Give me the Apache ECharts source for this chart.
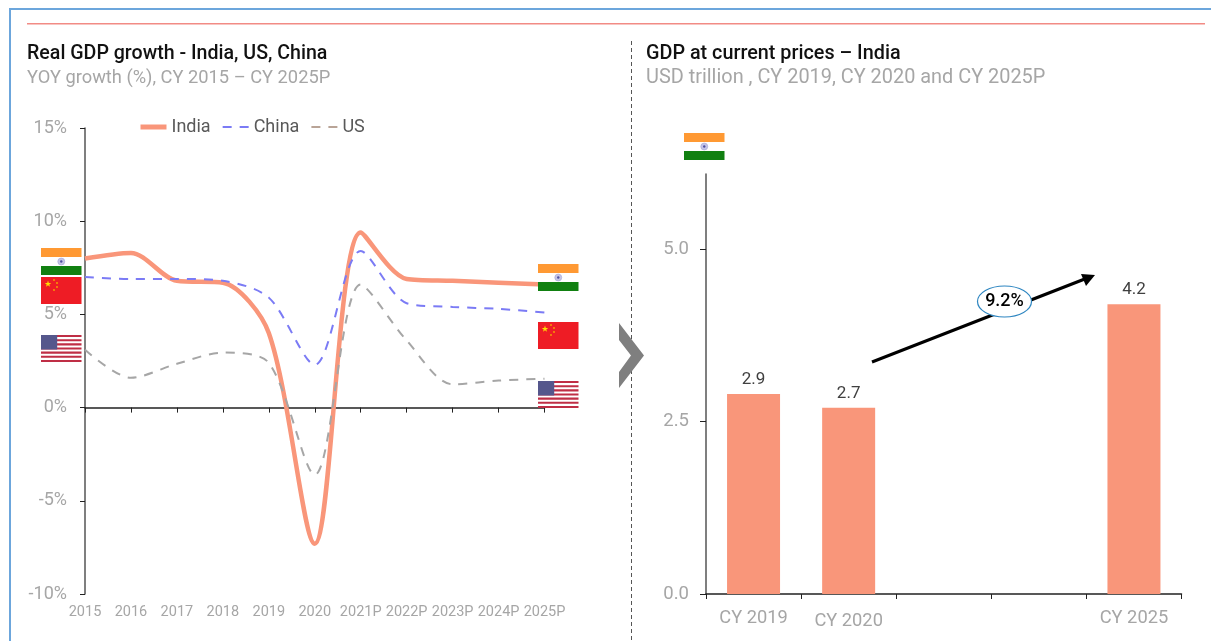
<!DOCTYPE html>
<html><head><meta charset="utf-8">
<style>html,body{margin:0;padding:0;background:#fff}#c{width:1211px;height:641px}</style>
<script src="https://cdn.jsdelivr.net/npm/echarts@6/dist/echarts.min.js"></script></head>
<body><div id="c"></div>
<script>
const years = ['2015','2016','2017','2018','2019','2020','2021P','2022P','2023P','2024P','2025P'];
const india = [8.0,8.3,6.8,6.7,4.0,-7.3,9.4,6.9,6.8,6.7,6.6];
const china = [7.0,6.9,6.9,6.8,5.9,2.3,8.4,5.6,5.4,5.3,5.1];
const us = [3.1,1.6,2.35,2.95,2.4,-3.6,6.6,3.6,1.25,1.45,1.55];
const gdpCats = ['CY 2019','CY 2020','','','CY 2025'];
const gdpVals = [2.9,2.7,null,null,4.2];
const FONT = 'Roboto';
const GREY = '#A6A6A6';
const ORANGE = '#F9967A';

function flag(kind,x,y){
  const w=40.5;
  let out;
  if(kind==='in') out=[
    {type:'rect',shape:{x,y,width:w,height:27},style:{fill:'#fff'}},
    {type:'rect',shape:{x,y,width:w,height:9},style:{fill:'#FF9933'}},
    {type:'rect',shape:{x,y:y+18,width:w,height:9},style:{fill:'#118011'}},
    {type:'circle',shape:{cx:x+w/2,cy:y+13.5,r:3.5},style:{fill:'#C5C5E6',stroke:'#9A9AD0',lineWidth:.5}},
    {type:'circle',shape:{cx:x+w/2,cy:y+13.5,r:1.2},style:{fill:'#5050A0'}}
  ];
  else if(kind==='cn'){
    out=[{type:'rect',shape:{x,y,width:w,height:27},style:{fill:'#EE1C25'}},
      {type:'polygon',shape:{points:star(x+7,y+7,3.4)},style:{fill:'#FFDD00'}}];
    [[13,3],[16,6],[16,10],[13,13]].forEach(p=>out.push({type:'circle',shape:{cx:x+p[0],cy:y+p[1],r:.9},style:{fill:'#F7A600'}}));
  } else {
    out=[{type:'rect',shape:{x,y,width:w,height:27},style:{fill:'#fff'}}];
    for(let i=0;i<7;i++) out.push({type:'rect',shape:{x,y:y+i*27/6.5,width:w,height:2.08},style:{fill:'#BF2E45'}});
    out.push({type:'rect',shape:{x,y,width:16.2,height:14.5},style:{fill:'#55578C'}});
  }
  return out.map((e,i)=>Object.assign(e,{z:20+i}));
}
function star(cx,cy,r){const p=[];for(let i=0;i<10;i++){const a=-Math.PI/2+i*Math.PI/5,q=i%2?r*.4:r;p.push([cx+q*Math.cos(a),cy+q*Math.sin(a)]);}return p;}

const titles=[
 ['Real GDP growth - India, US, China',27,44,19.6,'#111',500],
 ['YOY growth (%), CY 2015 – CY 2025P',27,69,18.3,GREY,400],
 ['GDP at current prices – India',646,44,19.8,'#111',500],
 ['USD trillion , CY 2019, CY 2020 and CY 2025P',646,68,19.9,GREY,400]
].map(t=>({type:'text',style:{text:t[0],x:t[1],y:t[2],fontFamily:FONT,fontSize:t[3],fill:t[4],fontWeight:t[5]}}));

const graphic=[
 {type:'rect',shape:{x:9,y:8,width:1202,height:2},style:{fill:'#6CA6DC'}},
 {type:'rect',shape:{x:9,y:8,width:2,height:633},style:{fill:'#6CA6DC'}},
 {type:'rect',shape:{x:27,y:23,width:1178,height:1.5},style:{fill:'#F28B85'}},
 {type:'line',shape:{x1:631.5,y1:41,x2:631.5,y2:641},style:{stroke:'#555',lineWidth:1,lineDash:[4,3]}},
 {type:'polygon',shape:{points:[[619,323],[644,355.5],[619,388],[619,372],[631,355.5],[619,340]]},style:{fill:'#7F7F7F'}},
 ...titles,
 ...flag('in',41,248),...flag('cn',41,277),...flag('us',41,335),
 ...flag('in',538,264),...flag('cn',538,322),...flag('us',538,381),
 ...flag('in',684,133),
 {type:'line',shape:{x1:872,y1:362,x2:1086,y2:278.5},style:{stroke:'#000',lineWidth:3}},
 {type:'polygon',shape:{points:[[1095,275],[1081,274],[1086,286]]},style:{fill:'#000'}},
 {type:'ellipse',shape:{cx:1004.5,cy:301.5,rx:27,ry:15.5},z:30,style:{fill:'#fff',stroke:'#2E86C1',lineWidth:1.2}},
 {type:'text',z:31,style:{text:'9.2%',x:1004.5,y:301.5,align:'center',verticalAlign:'middle',fontFamily:FONT,fontSize:18,fontWeight:500,fill:'#000'}}
];

function lineSeries(name,data,color,width,dash){
  return {name,type:'line',data,smooth:.3,symbol:'none',xAxisIndex:0,yAxisIndex:0,
    lineStyle:{color,width,type:dash?[9,8]:'solid'},itemStyle:{color}};
}
const option={
 animation:false,backgroundColor:'#fff',
 textStyle:{fontFamily:FONT},
 legend:{data:[{name:'India',lineStyle:{width:5}},{name:'China',lineStyle:{width:2}},{name:'US',lineStyle:{color:'#B9A497',width:2}}],
   left:138,top:118,padding:0,itemWidth:26,itemHeight:10,itemGap:11,
   itemStyle:{opacity:0},
   textStyle:{fontFamily:FONT,fontSize:18,color:'#595959'}},
 grid:[{left:85,top:128,width:459.5,height:466,outerBoundsMode:'none'},{left:706,top:174,width:475.5,height:420,outerBoundsMode:'none'}],
 xAxis:[
  {type:'category',gridIndex:0,data:years,boundaryGap:false,
   axisLine:{onZero:true,lineStyle:{color:'#222',width:1.5}},
   axisTick:{show:true,length:5,alignWithLabel:true,lineStyle:{color:'#222'}},
   axisLabel:{margin:11,interval:0,color:GREY,fontSize:14.5,fontFamily:FONT,hideOverlap:false,showMinLabel:true,showMaxLabel:true}},
  {type:'category',gridIndex:1,data:gdpCats.map(c=>c==='CY 2020'?{value:c,textStyle:{padding:[3,0,0,0]}}:c),
   axisLine:{lineStyle:{color:'#222',width:1.5}},
   axisTick:{show:true,length:5,alignWithLabel:false,lineStyle:{color:'#222'}},
   axisLabel:{margin:15,interval:0,color:GREY,fontSize:18.3,fontFamily:FONT}}
 ],
 yAxis:[
  {type:'value',gridIndex:0,min:-10,max:15,interval:5,
   axisLine:{show:true,lineStyle:{color:'#555',width:1.5}},
   axisTick:{show:true,length:5,lineStyle:{color:'#222'}},splitLine:{show:false},
   axisLabel:{margin:18,color:GREY,fontSize:18,fontFamily:FONT,formatter:'{value}%'}},
  {type:'value',gridIndex:1,min:0,max:6.09,
   axisLine:{show:true,lineStyle:{color:'#555',width:1.5}},
   axisTick:{show:true,length:6,lineStyle:{color:'#222'},customValues:[0,2.5,5]},
   splitLine:{show:false},
   axisLabel:{margin:17,color:GREY,fontSize:18.5,fontFamily:FONT,customValues:[0,2.5,5],formatter:v=>v.toFixed(1)}}
 ],
 series:[
  lineSeries('India',india,ORANGE,4.5,false),
  lineSeries('China',china,'#7B7BF5',2,true),
  lineSeries('US',us,'#A6A6A6',2,true),
  {type:'bar',xAxisIndex:1,yAxisIndex:1,data:gdpVals,barWidth:53,itemStyle:{color:ORANGE},
   label:{show:true,position:'top',distance:6,color:'#404040',fontSize:17,fontFamily:FONT,formatter:p=>p.value.toFixed(1)}}
 ],
 graphic:{elements:graphic}
};
echarts.init(document.getElementById('c'),null,{renderer:'canvas'}).setOption(option);
</script></body></html>
